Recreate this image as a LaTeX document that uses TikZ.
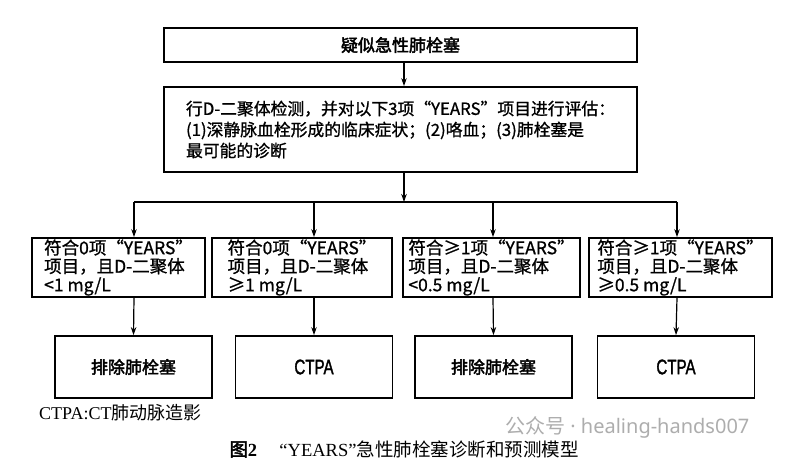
\documentclass[tikz,border=0pt]{standalone}
\usepackage{fontspec}
\usetikzlibrary{arrows.meta}
\setmainfont{Liberation Serif}
\newfontfamily\hei{Noto Sans CJK SC}[FakeBold=1]
\newfontfamily\heib{Noto Sans CJK SC}[FakeBold=2.5]
\newfontfamily\heiplain{Noto Sans CJK SC}
\newfontfamily\wm{Noto Sans}
\newfontfamily\narrowb{Liberation Sans}[FakeStretch=0.72,FakeBold=1.5]
\begin{document}
\begin{tikzpicture}[x=1pt,y=-1pt,
  box/.style={draw,line width=1.8pt,inner sep=0pt},
  arr/.style={line width=1.2pt,-{Stealth[length=8pt,width=5.5pt]}},
  ln/.style={line width=1.2pt},
  midbox/.style={box,minimum height=59pt,align=left,font=\hei\fontsize{17.5}{18.5}\selectfont},
  endbox/.style={box,minimum width=157pt,minimum height=62pt,font=\heib\fontsize{17}{20}\selectfont}]
\useasboundingbox (0,0) rectangle (800,474);
\fill[white] (0,0) rectangle (800,474);
% top
\node[box,minimum width=473pt,minimum height=34pt,font=\heib\fontsize{17}{20}\selectfont] (top) at (400.5,45) {疑似急性肺栓塞};
\node[box,minimum width=473pt,minimum height=85pt,align=left,font=\hei\fontsize{16.8}{21}\selectfont] (eval) at (400.5,129.5)
  {行D-二聚体检测，并对以下3项“YEARS”项目进行评估：\\(1)深静脉血栓形成的临床症状；(2)咯血；(3)肺栓塞是\\最可能的诊断};
% coordinates
\coordinate (j) at (404,202);
\coordinate (c1) at (134,202);
\coordinate (c2) at (314,202);
\coordinate (c3) at (493,202);
\coordinate (c4) at (677,202);
% middle row
\node[midbox,minimum width=173pt] (a1) at (118.5,267.5) {符合0项“YEARS”\\项目，且D-二聚体\\<1 mg/L};
\node[midbox,minimum width=180pt] (a2) at (302,267.5) {符合0项“YEARS”\\项目，且D-二聚体\\≥1 mg/L};
\node[midbox,minimum width=177pt] (a3) at (491.5,267.5) {符合≥1项“YEARS”\\项目，且D-二聚体\\<0.5 mg/L};
\node[midbox,minimum width=183pt] (a4) at (680.5,267.5) {符合≥1项“YEARS”\\项目，且D-二聚体\\≥0.5 mg/L};
% bottom row
\node[endbox] (r1) at (133.5,367) {排除肺栓塞};
\node[endbox,font=\narrowb\fontsize{21}{22}\selectfont] (r2) at (314,367) {CTPA};
\node[endbox] (r3) at (493.5,367) {排除肺栓塞};
\node[endbox,font=\narrowb\fontsize{21}{22}\selectfont] (r4) at (676,367) {CTPA};
% connectors
\draw[arr] (top.south -| j) -- (eval.north -| j);
\draw[arr] (eval.south -| j) -- (j);
\draw[ln] (c1) -- (c4);
\foreach \i in {1,2,3,4}{
  \draw[arr] (c\i) -- (a\i.north -| c\i);
  \draw[arr] (a\i.south -| c\i) -- (r\i.north);
}
% legend and caption
\node[anchor=west,inner sep=0pt,font=\fontsize{18}{20}\selectfont] (leg) at (39,413) {CTPA:CT{\heiplain 肺动脉造影}};
\node[inner sep=0pt,font=\fontsize{18.5}{20}\selectfont] (cap) at (404,449) {{\heib 图}\textbf{2}\hspace{1.2em}“YEARS”{\heiplain 急性肺栓塞诊断和预测模型}};
\node[anchor=west,inner sep=0pt,text=black!40,opacity=0.8,font=\wm\fontsize{20}{22}\selectfont] (wm) at (505,427) {{\heiplain 公众号} · healing-hands007};
\end{tikzpicture}
\end{document}
